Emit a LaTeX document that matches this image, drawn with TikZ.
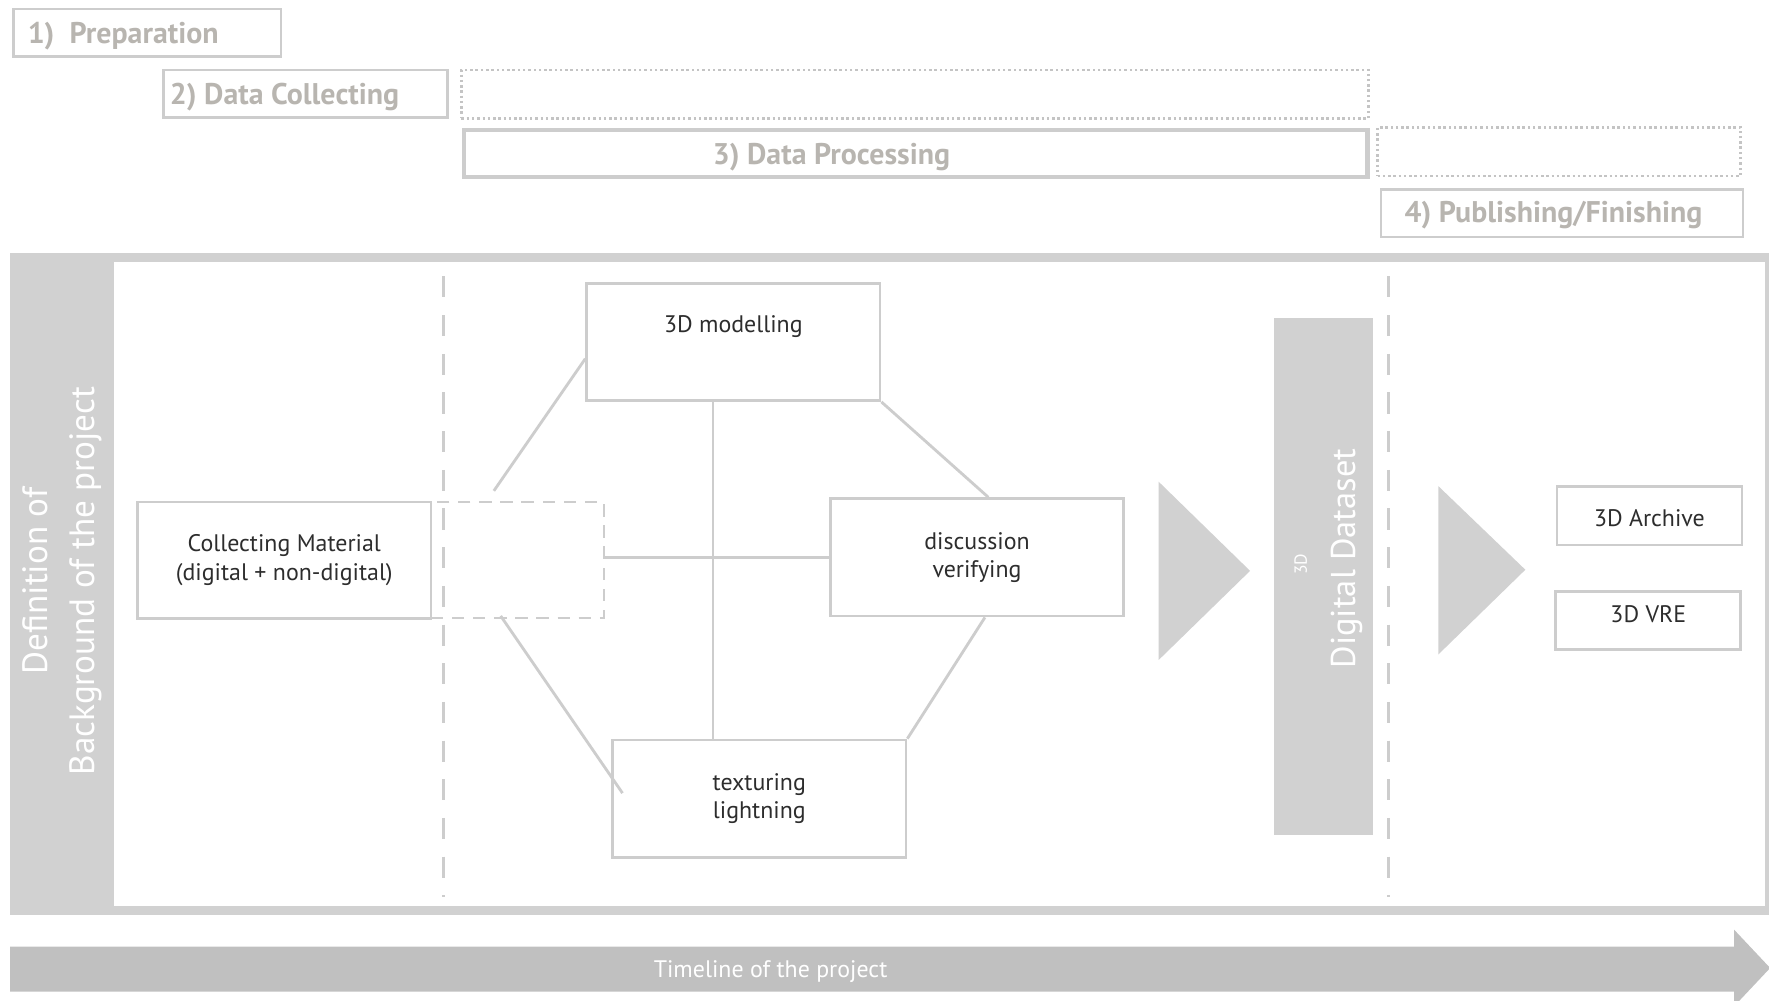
\documentclass[tikz,border=0pt]{standalone}
\usepackage{fontspec}
\setmainfont{PT Sans}
\usepackage{tikz}
\usetikzlibrary{positioning, fit, calc}

\definecolor{framegray}{RGB}{209,209,209}
\definecolor{linegray}{RGB}{205,205,205}
\definecolor{dotgray}{RGB}{196,196,196}
\definecolor{headgray}{RGB}{184,181,176}
\definecolor{timegray}{RGB}{192,192,192}
\definecolor{textdark}{RGB}{45,45,45}

\begin{document}
\begin{tikzpicture}[
    x=0.011282cm, y=-0.011282cm,
    phasebox/.style={rectangle, draw=linegray, line width=0.8pt, inner sep=0pt},
    phasetext/.style={text=headgray, font=\fontsize{8.5}{9.5}\selectfont\bfseries, inner sep=0pt},
    dotbox/.style={rectangle, draw=dotgray, line width=0.8pt, dash pattern=on 0.7pt off 0.8pt, inner sep=0pt},
    workbox/.style={rectangle, draw=linegray, line width=0.8pt, fill=white, inner sep=0pt},
    worktext/.style={text=textdark, align=center, inner sep=0pt, font=\fontsize{6.8}{8}\selectfont},
    link/.style={draw=linegray, line width=0.8pt},
    divider/.style={draw=linegray, line width=0.8pt, dash pattern=on 6pt off 5pt},
    headtext/.style={rotate=90, text=white, align=center}
]
\useasboundingbox (0,0) rectangle (1568,887);

% phases on top
\node[phasebox, fit={(12,8) (249,50)}] (prep) {};
\node[phasetext, anchor=west] (preptext) at (24,32) {1)~~Preparation};
\node[phasebox, fit={(145,62) (397,104)}] (collect) {};
\node[phasetext, anchor=west] (collecttext) at (150,86) {2) Data Collecting};
\node[dotbox, fit={(409,62) (1213,105)}] (collectrun) {};
\node[phasebox, line width=1.2pt, fit={(411,115) (1212,157)}] (process) {};
\node[phasetext] (processtext) at (737,139) {3) Data Processing};
\node[dotbox, fit={(1221,113) (1543,156)}] (processrun) {};
\node[phasebox, fit={(1224,168) (1545,210)}] (publish) {};
\node[phasetext] (publishtext) at (1377,191) {4) Publishing/Finishing};

% frame
\fill[framegray] (9,224) rectangle (1568,811);
\fill[white] (101,232) rectangle (1564,803);
\node[headtext, font=\fontsize{10}{13.5}\selectfont] (background) at (55,515) {Definition of\\Background of the project};

\draw[divider] (393,245) -- (393,795);
\draw[divider] (1231,245) -- (1231,795);

% work steps
\node[workbox, fill=none, line width=0.6pt, dash pattern=on 3.5pt off 2.5pt, fit={(382,445) (535,548)}] (hub) {};
\node[workbox, fit={(122,445) (382,548)}] (material) {};
\node[worktext] (materialtext) at (material.center) {Collecting Material\\(digital + non-digital)};
\node[workbox, fit={(520,251) (780,355)}] (model) {};
\node[worktext, yshift=4.4pt] (modeltext) at (model.center) {3D modelling};
\node[workbox, fit={(736,442) (996,546)}] (verify) {};
\node[worktext] (verifytext) at (verify.center) {discussion\\verifying};
\node[workbox, fit={(543,656) (803,760)}] (texture) {};
\node[worktext] (texturetext) at (texture.center) {texturing\\lightning};

\coordinate (spine) at (632,0);
\draw[link] ($(hub.north west)!0.366!(hub.north east)+(0,-9)$) -- ($(model.west)+(0,15)$);
\draw[link] ($(hub.south west)!0.405!(hub.south east)+(0,-3)$) -- ($(texture.west)+(10,-5)$);
\draw[link] (model.south -| spine) -- (texture.north -| spine);
\draw[link] (hub.east |- verify.west) -- (verify.west);
\draw[link] (model.south east) -- ($(verify.north)+(10,0)$);
\draw[link] ($(verify.south)+(7,0)$) -- (texture.north east);

% dataset and results
\fill[framegray] (1027,427) -- (1108,506) -- (1027,585) -- cycle;
\node[fill=framegray, inner sep=0pt, fit={(1129,282) (1217,740)}] (dataset) {};
\node[headtext, font=\fontsize{9.8}{11}\selectfont] (datasettext) at (1194,495) {Digital Dataset};
\node[headtext, font=\fontsize{5}{6}\selectfont] (dataset3d) at (1153,500) {3D};

\fill[framegray] (1275,431) -- (1352,505) -- (1275,580) -- cycle;
\node[workbox, fit={(1380,431) (1544,483)}] (archive) {};
\node[worktext, yshift=-0.6pt] (archivetext) at (archive.center) {3D Archive};
\node[workbox, fit={(1379,524) (1543,576)}] (vre) {};
\node[worktext, yshift=1.9pt] (vretext) at (vre.center) {3D VRE};

% timeline
\fill[timegray] (9,839) -- (1537,839) -- (1537,824) -- (1569,858) -- (1537,892) -- (1537,879) -- (9,879) -- cycle;
\node[text=white, font=\fontsize{6.8}{8}\selectfont] (timeline) at (683,861) {Timeline of the project};

\end{tikzpicture}
\end{document}
